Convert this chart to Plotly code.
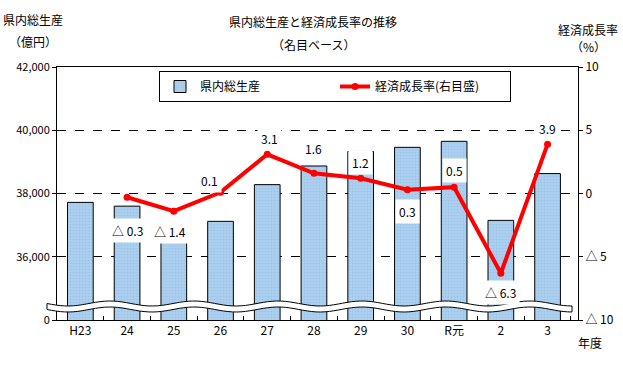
import numpy as np
import plotly.graph_objects as go

# ---- data ----
categories = ["H23", "24", "25", "26", "27", "28", "29", "30", "R元", "2", "3"]
gdp_oku_yen = [37720, 37600, 37100, 37120, 38280, 38870, 39330, 39460, 39650, 37150, 38630]
growth_cats = ["24", "25", "26", "27", "28", "29", "30", "R元", "2", "3"]
growth_rate = [-0.3, -1.4, 0.1, 3.1, 1.6, 1.2, 0.3, 0.5, -6.3, 3.9]
left_tickvals = [34000, 36000, 38000, 40000, 42000]
left_ticktext = ["0", "36,000", "38,000", "40,000", "42,000"]
right_tickvals = [-10, -5, 0, 5, 10]
right_ticktext = ["△ 10", "△ 5", "0", "5", "10"]

# label placement (pixel offsets from the point)
label_xshift = [0, -4, -11, 2, 0, 0, 0, 0, 0, 0]
label_yshift = [-33, -20, 12, 16, 25, 16, -22, 17, -19, 16]

FONT = "Noto Sans CJK JP"
W, H = 623, 366
ML, MR, MT, MB = 57, 45, 67, 46
PW, PH = W - ML - MR, H - MT - MB


def fmt(v):
    return ("△ %.1f" % abs(v)) if v < 0 else ("%.1f" % v)


def px2paper(px, py):
    return (px - ML) / PW, (MT + PH - py) / PH


fig = go.Figure()
fig.add_trace(go.Bar(
    x=categories, y=gdp_oku_yen, name="県内総生産",
    marker=dict(color="#a4c8ec", line=dict(color="black", width=1),
                pattern=dict(shape=".", fgcolor="#8fb5dd", bgcolor="#aacfef", size=3, solidity=0.25)),
    width=0.55, yaxis="y",
))
fig.add_trace(go.Scatter(
    x=growth_cats, y=growth_rate, name="経済成長率(右目盛)", yaxis="y2",
    mode="lines+markers", line=dict(color="#ff0000", width=4),
    marker=dict(color="#ff0000", size=7),
))

for c, v, dx, dy in zip(growth_cats, growth_rate, label_xshift, label_yshift):
    fig.add_annotation(x=categories.index(c), y=v, xref="x", yref="y2", text=fmt(v), showarrow=False,
                       xshift=dx, yshift=dy, bgcolor="white", borderpad=3,
                       font=dict(family=FONT, size=12, color="black"))

# axis break band (decoration)
xs = np.linspace(47, 572, 120)
mid = 306.5 + 2.5 * -np.cos(2 * np.pi * (xs - 110) / 84)
up = mid - 3
lo = mid + 3
pts = [px2paper(x, y) for x, y in zip(xs, up)] + [px2paper(x, y) for x, y in zip(xs[::-1], lo[::-1])]
path = "M " + " L ".join("%.4f,%.4f" % p for p in pts) + " Z"
fig.add_shape(type="path", path=path, xref="paper", yref="paper",
              fillcolor="white", line=dict(color="black", width=1), layer="above")

texts = [
    (313, 22, "県内総生産と経済成長率の推移"),
    (313, 44, "（名目ベース）"),
    (33, 20, "県内総生産"),
    (33, 42, "（億円）"),
    (588, 30, "経済成長率"),
    (588, 46, "（%）"),
    (590, 342, "年度"),
]
for x, y, t in texts:
    px_, py_ = px2paper(x, y)
    fig.add_annotation(x=px_, y=py_, xref="paper", yref="paper", text=t,
                       showarrow=False, xanchor="center", yanchor="middle",
                       font=dict(family=FONT, size=12, color="black"))

fig.update_layout(
    width=W, height=H, margin=dict(l=ML, r=MR, t=MT, b=MB, autoexpand=False),
    paper_bgcolor="white", plot_bgcolor="white",
    font=dict(family=FONT, size=12, color="black"),
    showlegend=True, bargap=0.45,
    legend=dict(orientation="h", x=(159 - ML) / PW, y=(MT + PH - 71) / PH, xanchor="left", yanchor="top",
                bordercolor="black", borderwidth=1, bgcolor="white",
                font=dict(family=FONT, size=12), entrywidth=130, itemwidth=30),
    xaxis=dict(type="category", showline=True, linecolor="black", linewidth=1, mirror=True,
               ticks="inside", tickson="boundaries", ticklen=4, tickcolor="black",
               showgrid=False, tickangle=0, tickfont=dict(family=FONT, size=12)),
    yaxis=dict(range=[34000, 42000], tickvals=left_tickvals, ticktext=left_ticktext,
               showline=True, linecolor="black", linewidth=1, mirror=True,
               showgrid=True, gridcolor="black", griddash="dash", gridwidth=1,
               ticks="outside", ticklen=4, tickcolor="black", zeroline=False,
               tickfont=dict(family=FONT, size=11)),
    yaxis2=dict(range=[-10, 10], tickvals=right_tickvals, ticktext=right_ticktext,
                overlaying="y", side="right", showgrid=False, zeroline=False,
                ticks="outside", ticklen=4, tickcolor="black",
                tickfont=dict(family=FONT, size=12)),
)

fig.write_html("out.html", config={"displayModeBar": False},
               post_script="document.body.style.margin='0';")
